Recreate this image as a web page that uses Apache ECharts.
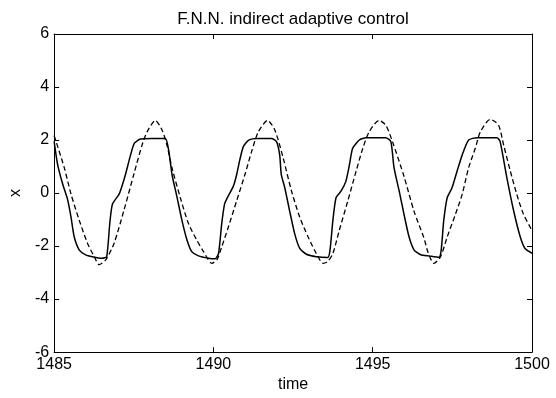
<!DOCTYPE html>
<html>
<head>
<meta charset="utf-8">
<script src="https://cdn.jsdelivr.net/npm/echarts@6/dist/echarts.min.js"></script>
<style>
html,body{margin:0;padding:0;background:#fff;}
#chart{width:556px;height:398px;}
</style>
</head>
<body>
<div id="chart"></div>
<script>
// ---- data ----
var titleText = 'F.N.N. indirect adaptive control';
var xLabel = 'time';
var yLabel = 'x';
var xTicks = [1485, 1490, 1495, 1500];
var yTicks = [-6, -4, -2, 0, 2, 4, 6];

// solid curve (actual output)
var tSolid = [1485.00,1485.11,1485.27,1485.42,1485.53,1485.63,1485.79,1485.99,1486.20,1486.51,1486.65,1486.75,1486.83,1487.04,1487.14,1487.24,1487.40,1487.52,1487.71,1488.08,1488.49,1488.60,1488.70,1488.86,1489.01,1489.17,1489.32,1489.53,1489.85,1490.05,1490.16,1490.26,1490.35,1490.47,1490.63,1490.73,1490.83,1490.94,1491.11,1491.41,1491.82,1491.98,1492.08,1492.13,1492.24,1492.39,1492.55,1492.71,1492.92,1493.23,1493.59,1493.66,1493.75,1493.85,1494.01,1494.16,1494.27,1494.37,1494.58,1494.79,1495.41,1495.57,1495.67,1495.83,1495.98,1496.14,1496.30,1496.51,1496.76,1497.08,1497.15,1497.23,1497.34,1497.49,1497.65,1497.81,1498.01,1498.28,1498.90,1499.00,1499.21,1499.42,1499.63,1499.78,1500.00];
var xSolid = [1.95,1.07,0.33,-0.23,-0.91,-1.65,-2.15,-2.33,-2.40,-2.46,-2.40,-1.10,-0.42,-0.04,0.30,0.70,1.44,1.88,2.04,2.06,2.06,1.58,0.70,-0.17,-1.02,-1.77,-2.21,-2.37,-2.46,-2.48,-2.28,-1.16,-0.42,-0.10,0.27,0.70,1.26,1.75,2.00,2.06,2.06,1.94,1.44,0.70,0.20,-0.66,-1.53,-2.09,-2.31,-2.40,-2.43,-2.15,-1.03,-0.17,0.08,0.45,1.07,1.69,2.00,2.09,2.09,1.94,0.95,0.08,-0.79,-1.65,-2.15,-2.33,-2.37,-2.42,-2.15,-1.03,-0.17,0.20,0.83,1.44,2.00,2.09,2.09,1.94,0.58,-0.65,-1.65,-2.09,-2.27];

// dashed curve (reference)
var tRef = [1485.00,1485.32,1485.53,1485.79,1486.05,1486.26,1486.41,1486.62,1486.88,1487.19,1487.50,1487.76,1487.92,1488.18,1488.39,1488.54,1488.70,1488.96,1489.22,1489.48,1489.69,1489.95,1490.11,1490.26,1490.47,1490.73,1490.99,1491.20,1491.41,1491.70,1491.93,1492.19,1492.45,1492.71,1492.97,1493.23,1493.44,1493.59,1493.75,1493.95,1494.22,1494.48,1494.69,1494.89,1495.20,1495.41,1495.62,1495.99,1496.30,1496.61,1496.74,1496.92,1497.13,1497.34,1497.60,1497.81,1498.01,1498.22,1498.38,1498.69,1498.95,1499.11,1499.32,1499.52,1499.73,1500.00];
var xRef = [2.17,0.95,-0.04,-1.03,-1.90,-2.40,-2.70,-2.52,-1.90,-0.66,0.70,1.81,2.31,2.74,2.37,1.81,0.95,-0.17,-1.16,-1.78,-2.21,-2.65,-2.52,-2.03,-1.28,-0.29,0.70,1.57,2.31,2.74,2.37,1.32,0.08,-0.91,-1.65,-2.28,-2.65,-2.58,-2.28,-1.41,-0.29,0.83,1.69,2.31,2.74,2.56,1.94,0.60,-0.70,-1.70,-2.25,-2.65,-2.40,-1.65,-0.79,-0.04,0.95,1.69,2.31,2.78,2.56,1.81,0.83,-0.04,-0.79,-1.41];

function pairs(t, v){ var o=[]; for(var i=0;i<t.length;i++){ o.push([t[i], v[i]]); } return o; }

var FONT = 'Liberation Sans, Arial, Helvetica, sans-serif';
var chart = echarts.init(document.getElementById('chart'), null, {renderer:'canvas'});

function xAxisCfg(pos, showLabels){
  return {
    type:'value', position:pos, min:xTicks[0], max:xTicks[xTicks.length-1], interval:5,
    axisLine:{show:true, onZero:false, lineStyle:{color:'#000', width:1}},
    axisTick:{show:true, inside:true, length:5, lineStyle:{color:'#000', width:1}},
    axisLabel:{show:showLabels, color:'#000', fontSize:16, fontFamily:FONT, margin:4,
      formatter:function(v){ return String(v); }},
    splitLine:{show:false},
    name: showLabels ? xLabel : '', nameLocation:'middle', nameGap:22,
    nameTextStyle:{color:'#000', fontSize:16, fontFamily:FONT}
  };
}
function yAxisCfg(pos, showLabels){
  return {
    type:'value', position:pos, min:yTicks[0], max:yTicks[yTicks.length-1], interval:2,
    axisLine:{show:true, onZero:false, lineStyle:{color:'#000', width:1}},
    axisTick:{show:true, inside:true, length:5, lineStyle:{color:'#000', width:1}},
    axisLabel:{show:showLabels, color:'#000', fontSize:16, fontFamily:FONT, margin:5,
      formatter:function(v){ return String(v); }},
    splitLine:{show:false},
    name: showLabels ? yLabel : '', nameLocation:'middle', nameGap:30,
    nameTextStyle:{color:'#000', fontSize:16, fontFamily:FONT}
  };
}

chart.setOption({
  animation:false,
  backgroundColor:'#fff',
  title:{text:titleText, left:288, textAlign:'center', top:6,
    textStyle:{color:'#000', fontSize:17, fontWeight:'normal', fontFamily:FONT}},
  grid:{left:52, right:24, top:34, bottom:41, containLabel:false},
  xAxis:[xAxisCfg('bottom', true), xAxisCfg('top', false)],
  yAxis:[yAxisCfg('left', true), yAxisCfg('right', false)],
  series:[
    {type:'line', xAxisIndex:0, yAxisIndex:0, data:pairs(tRef, xRef), showSymbol:false, smooth:0.25,
     lineStyle:{color:'#000', width:1.3, type:[5,3]}},
    {type:'line', xAxisIndex:0, yAxisIndex:0, data:pairs(tSolid, xSolid), showSymbol:false, smooth:0.2,
     lineStyle:{color:'#000', width:1.5, type:'solid'}}
  ]
});
</script>
</body>
</html>
